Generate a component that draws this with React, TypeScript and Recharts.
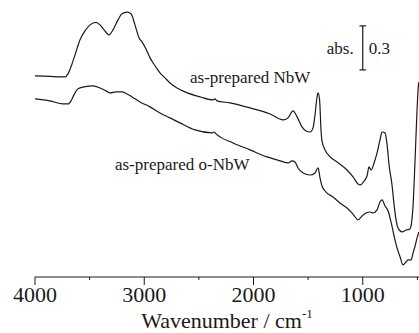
import React from 'react';
import { LineChart, Line, XAxis, YAxis, ReferenceLine, ReferenceDot } from 'recharts';

// as-prepared NbW (upper trace)
const nbwWn = [
  4000, 3863, 3771, 3725, 3698, 3661, 3625, 3588, 3542, 3496,
  3442, 3405, 3368, 3323, 3286, 3240, 3204, 3158, 3121, 3085,
  3048, 3021, 2984, 2947, 2901, 2856, 2810, 2764, 2700, 2627,
  2489, 2370, 2352, 2334, 2215, 2032, 1849, 1730, 1684, 1638,
  1601, 1556, 1519, 1482, 1455, 1437, 1418, 1409, 1395, 1382,
  1373, 1345, 1299, 1235, 1144, 1089, 1043, 1025, 988, 961,
  942, 924, 896, 869, 842, 823, 796, 777, 759, 732,
  713, 695, 677, 640, 604, 567, 558, 539, 521, 503,
  489, 485,
];
const nbwAbs = [
  1.370, 1.367, 1.363, 1.363, 1.384, 1.452, 1.534, 1.616, 1.677, 1.718,
  1.735, 1.718, 1.684, 1.650, 1.684, 1.752, 1.793, 1.804, 1.793, 1.718,
  1.630, 1.602, 1.554, 1.493, 1.439, 1.391, 1.357, 1.322, 1.288, 1.261,
  1.227, 1.207, 1.214, 1.200, 1.186, 1.152, 1.111, 1.070, 1.084, 1.132,
  1.091, 1.023, 0.995, 0.988, 1.016, 1.104, 1.227, 1.254, 1.207, 1.002,
  0.927, 0.866, 0.818, 0.784, 0.729, 0.682, 0.634, 0.627, 0.654, 0.688,
  0.750, 0.729, 0.777, 0.845, 0.934, 0.988, 0.982, 0.900, 0.763, 0.627,
  0.491, 0.389, 0.334, 0.307, 0.320, 0.327, 0.348, 0.491, 0.798, 1.138,
  1.316, 1.329,
];

// as-prepared o-NbW (lower trace)
const onbwWn = [
  4000, 3863, 3744, 3698, 3670, 3643, 3606, 3551, 3469, 3405,
  3350, 3313, 3258, 3204, 3158, 3112, 3039, 2947, 2856, 2764,
  2673, 2535, 2380, 2361, 2343, 2187, 2032, 1876, 1757, 1684,
  1647, 1620, 1592, 1546, 1482, 1437, 1409, 1391, 1373, 1336,
  1272, 1208, 1144, 1089, 1043, 1006, 970, 933, 906, 869,
  842, 823, 796, 768, 741, 713, 686, 658, 631, 604,
  585, 558, 539, 521, 503, 485,
];
const onbwAbs = [
  1.213, 1.200, 1.179, 1.179, 1.200, 1.241, 1.282, 1.295, 1.302, 1.288,
  1.268, 1.254, 1.261, 1.261, 1.247, 1.227, 1.193, 1.159, 1.118, 1.084,
  1.050, 1.002, 0.982, 0.988, 0.975, 0.913, 0.866, 0.818, 0.791, 0.777,
  0.791, 0.784, 0.743, 0.709, 0.695, 0.709, 0.743, 0.675, 0.620, 0.579,
  0.545, 0.504, 0.470, 0.429, 0.389, 0.416, 0.436, 0.443, 0.436, 0.457,
  0.511, 0.525, 0.484, 0.450, 0.375, 0.279, 0.198, 0.136, 0.082, 0.102,
  0.116, 0.116, 0.164, 0.211, 0.266, 0.307,
];

const xTicks = [4000, 3500, 3000, 2500, 2000, 1500, 1000, 500];
const seriesLabels = ['as-prepared NbW', 'as-prepared o-NbW'];
// where the series labels start (wavenumber, absorbance at baseline)
const labelWn = [2581, 3268];
const labelAbs = [1.322, 0.729];

// scale bar
const barWn = 1000;
const barBase = 1.411;
const barSize = 0.3;
const barCap = 30;

const FONT = '"Liberation Serif", "DejaVu Serif", "Times New Roman", serif';
const INK = '#1a1a1a';
const TICK_SIZE = 8;
const TICK_MARGIN = 1;

const nbwData = nbwWn.map((wn, i) => ({ wn, abs: nbwAbs[i] }));
const onbwData = onbwWn.map((wn, i) => ({ wn, abs: onbwAbs[i] }));

const AxisTick = (props: any) => {
  const { x, y, payload } = props;
  const major = payload.value % 1000 === 0;
  const y0 = y - TICK_SIZE - TICK_MARGIN;
  return (
    <g>
      <line x1={x} x2={x} y1={y0} y2={y0 + (major ? TICK_SIZE : 3)} stroke={INK} strokeWidth={1} />
      {major && (
        <text x={x} y={y} dy="0.71em" textAnchor="middle" fontFamily={FONT} fontSize={22} fill={INK}>
          {payload.value}
        </text>
      )}
    </g>
  );
};

const AxisTitle = (props: any) => {
  const { x, y, width, height } = props.viewBox;
  return (
    <text x={x + width / 2} y={y + height - 5} textAnchor="middle" fontFamily={FONT} fontSize={22} fill={INK}>
      Wavenumber / cm
      <tspan dy={-10} fontSize={13}>-1</tspan>
    </text>
  );
};

const seriesLabel = (text: string) => (props: any) => {
  const { x, y } = props.viewBox;
  return (
    <text x={x} y={y} fontFamily={FONT} fontSize={17} fill={INK}>
      {text}
    </text>
  );
};

const ScaleLabel = (props: any) => {
  const { x, y, height } = props.viewBox;
  const mid = y + height / 2 + 6;
  return (
    <g fontFamily={FONT} fontSize={17} fill={INK}>
      <text x={x - 9} y={mid} textAnchor="end">abs.</text>
      <text x={x + 6} y={mid}>{barSize}</text>
    </g>
  );
};

export default function App() {
  return (
    <div style={{ position: 'absolute', left: 0, top: 0, width: 419, height: 333, background: '#fff' }}>
      <LineChart width={419} height={333} margin={{ top: 4, right: 0, bottom: 0, left: 35 }}>
        <XAxis
          dataKey="wn"
          type="number"
          domain={[485, 4000]}
          reversed
          allowDataOverflow
          ticks={xTicks}
          interval={0}
          tick={<AxisTick />}
          tickLine={false}
          tickSize={TICK_SIZE}
          tickMargin={TICK_MARGIN}
          height={56}
          axisLine={{ stroke: INK, strokeWidth: 1 }}
          label={AxisTitle}
        />
        <YAxis type="number" domain={[0, 1.86]} hide allowDataOverflow />
        <Line
          data={nbwData}
          dataKey="abs"
          type="monotone"
          stroke={INK}
          strokeWidth={1.2}
          dot={false}
          isAnimationActive={false}
        />
        <Line
          data={onbwData}
          dataKey="abs"
          type="monotone"
          stroke={INK}
          strokeWidth={1.2}
          dot={false}
          isAnimationActive={false}
        />
        <ReferenceLine
          segment={[{ x: barWn, y: barBase }, { x: barWn, y: barBase + barSize }]}
          stroke={INK}
          strokeWidth={1.2}
          label={ScaleLabel}
        />
        <ReferenceLine
          segment={[{ x: barWn + barCap, y: barBase }, { x: barWn - barCap, y: barBase }]}
          stroke={INK}
          strokeWidth={1.2}
        />
        <ReferenceLine
          segment={[{ x: barWn + barCap, y: barBase + barSize }, { x: barWn - barCap, y: barBase + barSize }]}
          stroke={INK}
          strokeWidth={1.2}
        />
        {seriesLabels.map((t, i) => (
          <ReferenceDot
            key={t}
            x={labelWn[i]}
            y={labelAbs[i]}
            r={0}
            fill="none"
            stroke="none"
            label={seriesLabel(t)}
          />
        ))}
      </LineChart>
    </div>
  );
}
